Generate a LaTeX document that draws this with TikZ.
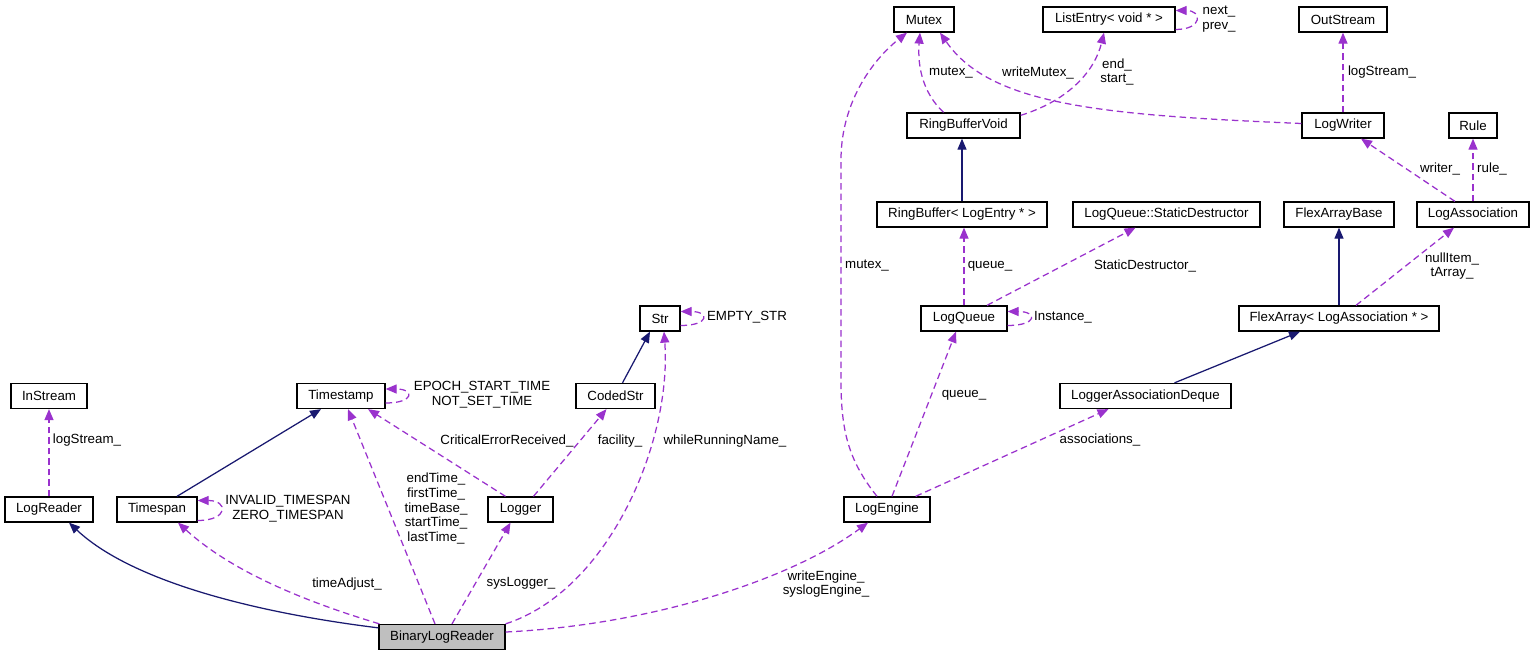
\documentclass[tikz,border=0pt]{standalone}
\usepackage{fontspec}
\setmainfont{Liberation Sans}
\usetikzlibrary{arrows.meta,calc}
\definecolor{depcol}{HTML}{9A32CD}
\definecolor{inhcol}{HTML}{191970}
\definecolor{boxgray}{HTML}{BFBFBF}
\tikzset{
  box/.style={draw=black, line width=1.3pt, fill=white, minimum height=25pt, inner sep=0pt,
    font=\fontsize{13.3}{14.7}\selectfont},
  lbl/.style={inner sep=0pt, align=center, font=\fontsize{13.3}{14.7}\selectfont},
  dep/.style={draw=depcol, line width=1.25pt, dash pattern=on 6.5pt off 4pt,
    -{Triangle[length=11pt,width=9pt,fill=depcol]}},
  inh/.style={draw=inhcol, line width=1.25pt,
    -{Triangle[length=11pt,width=9pt,fill=inhcol]}},
}
\begin{document}
\begin{tikzpicture}[x=1pt,y=-1pt]
\useasboundingbox[fill=white] (0,0) rectangle (1535,656);
% nodes
\node[box, minimum width=76pt] (instream) at (49,396) {InStream};
\node[box, minimum width=88pt] (logreader) at (49,509.5) {LogReader};
\node[box, minimum width=80pt] (timespan) at (157,509.5) {Timespan};
\node[box, minimum width=88pt] (timestamp) at (341,396) {Timestamp};
\node[box, minimum width=40pt] (str) at (660,318.5) {Str};
\node[box, minimum width=79pt] (codedstr) at (615.5,396) {CodedStr};
\node[box, minimum width=65pt] (logger) at (520.5,509.5) {Logger};
\node[box, minimum width=126pt, fill=boxgray] (blr) at (442,637) {BinaryLogReader};
\node[box, minimum width=86pt] (logengine) at (887,509.5) {LogEngine};
\node[box, minimum width=86pt] (logqueue) at (964,318.5) {LogQueue};
\node[box, minimum width=171pt] (lad) at (1145.5,396) {LoggerAssociationDeque};
\node[box, minimum width=200pt] (flexarray) at (1339,318.5) {FlexArray< LogAssociation * >};
\node[box, minimum width=170pt] (ringbuffer) at (962,214.5) {RingBuffer< LogEntry * >};
\node[box, minimum width=187pt] (staticdestr) at (1166.5,214.5) {LogQueue::StaticDestructor};
\node[box, minimum width=110pt] (flexbase) at (1339,214.5) {FlexArrayBase};
\node[box, minimum width=112pt] (logassoc) at (1473,214.5) {LogAssociation};
\node[box, minimum width=113pt] (rbvoid) at (963.5,125.5) {RingBufferVoid};
\node[box, minimum width=82pt] (logwriter) at (1343,125.5) {LogWriter};
\node[box, minimum width=48pt] (rule) at (1473,125.5) {Rule};
\node[box, minimum width=60pt] (mutex) at (924,19.5) {Mutex};
\node[box, minimum width=132pt] (listentry) at (1109,19.5) {ListEntry< void * >};
\node[box, minimum width=88pt] (outstream) at (1343,19.5) {OutStream};

% edges
\draw[dep] (logreader.north) -- (instream.south);
\draw[inh] ($(blr.north west)+(0,4)$) .. controls (250,612) and (130,580) .. ($(logreader.south)+(20,0)$);
\draw[dep] ($(blr.north west)+(1,0)$) .. controls (300,600) and (230,570) .. ($(timespan.south)+(21,0)$);
\draw[inh] ($(timespan.north)+(20,0)$) -- ($(timestamp.south)+(-20,0)$);
\draw[dep] ($(timespan.east)+(0,11)$) .. controls ($(timespan.east)+(31,11)$) and ($(timespan.east)+(31,-9)$) .. ($(timespan.east)+(0,-9)$);
\draw[dep] ($(timestamp.east)+(0,7)$) .. controls ($(timestamp.east)+(29,7)$) and ($(timestamp.east)+(29,-7)$) .. ($(timestamp.east)+(0,-7)$);
\draw[dep] ($(blr.north)+(-7,0)$) -- ($(timestamp.south)+(7,0)$);
\draw[dep] ($(logger.north)+(-15,0)$) -- ($(timestamp.south)+(27,0)$);
\draw[dep] ($(logger.north)+(13,0)$) -- ($(codedstr.south)+(-9,0)$);
\draw[inh] ($(codedstr.north)+(7,0)$) -- ($(str.south)+(-10,0)$);
\draw[dep] ($(str.east)+(0,7)$) .. controls ($(str.east)+(29,7)$) and ($(str.east)+(29,-7)$) .. ($(str.east)+(0,-7)$);
\draw[dep] (blr.north east) .. controls (610,590) and (672,440) .. ($(str.south)+(4,0)$);
\draw[dep] ($(blr.north)+(10,0)$) -- ($(logger.south)+(-10,0)$);
\draw[dep] ($(blr.east)+(0,-5)$) .. controls (650,625) and (790,580) .. ($(logengine.south)+(-19,0)$);
\draw[dep] ($(logengine.north)+(-10,0)$) .. controls (848,460) and (841,430) .. (841,380) -- (841,160) .. controls (841,100) and (875,58) .. ($(mutex.south)+(-17,0)$);
\draw[dep] ($(logengine.north)+(5,0)$) -- ($(logqueue.south)+(-8,0)$);
\draw[dep] ($(logengine.north east)+(-15,0)$) -- ($(lad.south)+(-37,0)$);
\draw[dep] (logqueue.north) -- (logqueue.north |- ringbuffer.south);
\draw[dep] ($(logqueue.north)+(23,0)$) -- ($(staticdestr.south)+(-31,0)$);
\draw[dep] ($(logqueue.east)+(0,7)$) .. controls ($(logqueue.east)+(30,7)$) and ($(logqueue.east)+(30,-7)$) .. ($(logqueue.east)+(0,-7)$);
\draw[inh] (ringbuffer.north) -- (ringbuffer.north |- rbvoid.south);
\draw[dep] ($(rbvoid.north)+(-20,0)$) .. controls (925,95) and (917,70) .. ($(mutex.south)+(-4,0)$);
\draw[dep] ($(rbvoid.north east)+(0,3)$) .. controls (1070,100) and (1095,70) .. ($(listentry.south)+(-5,0)$);
\draw[dep] ($(listentry.east)+(0,10)$) .. controls ($(listentry.east)+(27,10)$) and ($(listentry.east)+(27,-9)$) .. ($(listentry.east)+(0,-9)$);
\draw[dep] ($(logwriter.west)+(0,-2)$) .. controls (1100,115) and (990,105) .. ($(mutex.south)+(16,0)$);
\draw[dep] (logwriter.north) -- (outstream.south);
\draw[dep] ($(logassoc.north)+(-18,0)$) -- ($(logwriter.south)+(18,0)$);
\draw[dep] (logassoc.north) -- (rule.south);
\draw[inh] (flexarray.north) -- (flexbase.south);
\draw[dep] ($(flexarray.north)+(17,0)$) -- ($(logassoc.south)+(-19,0)$);
\draw[inh] ($(lad.north)+(29,0)$) -- ($(flexarray.south)+(-39,0)$);

% labels
\node[lbl] (l1) at (87,440) {logStream\_};
\node[lbl] (l2) at (347,584) {timeAdjust\_};
\node[lbl] (l3) at (288,509) {INVALID\_TIMESPAN\\ZERO\_TIMESPAN};
\node[lbl] (l4) at (482,395) {EPOCH\_START\_TIME\\NOT\_SET\_TIME};
\node[lbl] (l5) at (436,508.5) {endTime\_\\firstTime\_\\timeBase\_\\startTime\_\\lastTime\_};
\node[lbl] (l6) at (507,441) {CriticalErrorReceived\_};
\node[lbl] (l7) at (620,441) {facility\_};
\node[lbl] (l8) at (725,441) {whileRunningName\_};
\node[lbl] (l9) at (747,317) {EMPTY\_STR};
\node[lbl] (l10) at (521,583) {sysLogger\_};
\node[lbl] (l11) at (826,584) {writeEngine\_\\syslogEngine\_};
\node[lbl] (l12) at (867,266) {mutex\_};
\node[lbl] (l13) at (964,395) {queue\_};
\node[lbl] (l14) at (1100,440) {associations\_};
\node[lbl] (l15) at (990,266) {queue\_};
\node[lbl] (l16) at (1145,266) {StaticDestructor\_};
\node[lbl] (l17) at (1063,317) {Instance\_};
\node[lbl] (l18) at (1452,266) {nullItem\_\\tArray\_};
\node[lbl] (l19) at (1440,169) {writer\_};
\node[lbl] (l20) at (1492,169) {rule\_};
\node[lbl] (l21) at (1382,72) {logStream\_};
\node[lbl] (l22) at (1219,19) {next\_\\prev\_};
\node[lbl] (l23) at (951,73) {mutex\_};
\node[lbl] (l24) at (1038,73) {writeMutex\_};
\node[lbl] (l25) at (1117,72) {end\_\\start\_};
\end{tikzpicture}
\end{document}
